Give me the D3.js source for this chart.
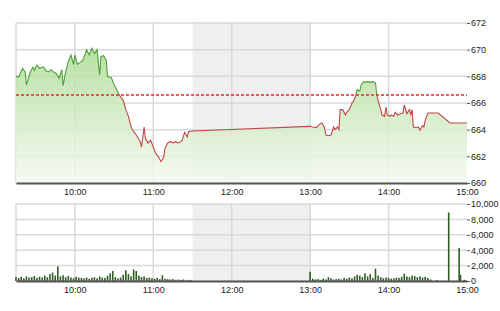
<!DOCTYPE html>
<html>
<head>
<meta charset="utf-8">
<script src="https://cdn.jsdelivr.net/npm/d3@7"></script>
<style>
  body { margin: 0; background: #fff; }
  text { font-family: "Liberation Sans", Arial, sans-serif; }
</style>
</head>
<body>
<div id="chart"></div>
<script>
// index data (time, value)
var priceTimes = ["9:15","9:17","9:20","9:22","9:23","9:26","9:28","9:29","9:31","9:33","9:36","9:38","9:40","9:42","9:44","9:46","9:48","9:50","9:51","9:53","9:55","9:57","9:59","10:00","10:02","10:04","10:06","10:08","10:09","10:11","10:13","10:15","10:17","10:19","10:20","10:22","10:24","10:25","10:28","10:29","10:32","10:34","10:37","10:39","10:41","10:43","10:45","10:47","10:50","10:51","10:53","10:54","10:56","10:58","11:00","11:02","11:04","11:06","11:08","11:09","11:11","11:13","11:15","11:17","11:19","11:21","11:22","11:24","11:26","11:27","11:30",
  "13:00","13:02","13:05","13:07","13:09","13:11","13:12","13:14","13:16","13:18","13:19","13:21","13:22","13:23","13:25","13:27","13:28","13:30","13:32","13:33","13:35","13:36","13:38","13:39","13:41","13:42","13:44","13:46","13:48","13:50","13:51","13:52","13:54","13:55","13:57","13:58","13:59","14:01","14:02","14:04","14:05","14:07","14:09","14:11","14:12","14:14","14:16","14:17","14:18","14:19","14:21","14:23","14:24","14:26","14:27","14:28","14:30","14:38","14:47","15:00"];
var priceValues = [668.0,667.95,668.6,668.35,667.35,668.35,668.7,668.45,668.85,668.6,668.7,668.4,668.35,668.5,668.3,668.2,667.85,668.5,667.3,668.35,669.1,669.6,668.9,669.6,668.9,669.05,669.2,669.7,670.0,669.6,670.1,669.7,670.0,668.1,669.5,669.55,669.2,668.0,667.9,667.6,667.0,666.6,666.2,665.5,665.0,664.2,663.85,663.6,663.1,662.7,664.2,663.35,663.0,663.2,662.7,662.2,661.95,661.6,661.95,662.6,663.0,663.1,663.0,663.1,663.0,663.1,663.2,663.8,663.45,663.85,663.9,
  664.25,664.2,664.15,664.4,664.5,664.15,663.6,663.55,663.6,664.2,664.0,664.2,664.0,665.5,665.5,665.1,665.3,665.5,666.0,666.1,666.6,667.0,666.9,667.35,667.6,667.55,667.6,667.55,667.6,667.5,666.6,666.2,665.5,665.1,665.0,665.7,665.1,665.0,665.1,665.0,665.3,665.1,665.2,665.25,665.85,665.2,665.5,665.1,665.5,664.2,664.15,664.2,663.95,664.3,664.2,664.7,665.25,665.25,664.5,664.5];
var refValue = 666.6;

// volume (every 2 minutes)
var volTimes = ["9:15","9:17","9:19","9:21","9:23","9:25","9:27","9:29","9:31","9:33","9:35","9:37","9:39","9:41","9:43","9:45","9:47","9:49","9:51","9:53","9:55","9:57","9:59","10:01","10:03","10:05","10:07","10:09","10:11","10:13","10:15","10:17","10:19","10:21","10:23","10:25","10:27","10:29","10:31","10:33","10:35","10:37","10:39","10:41","10:43","10:45","10:47","10:49","10:51","10:53","10:55","10:57","10:59","11:01","11:03","11:05","11:07","11:09","11:11","11:13","11:15","11:17","11:19","11:21","11:23","11:25","11:27","11:29",
  "13:00","13:02","13:04","13:06","13:08","13:10","13:12","13:14","13:16","13:18","13:20","13:22","13:24","13:26","13:28","13:30","13:32","13:34","13:36","13:38","13:40","13:42","13:44","13:46","13:48","13:50","13:52","13:54","13:56","13:58","14:00","14:02","14:04","14:06","14:08","14:10","14:12","14:14","14:16","14:18","14:20","14:22","14:24","14:26","14:28","14:30","14:32","14:37","14:46","14:54","14:55","14:58"];
var volValues = [500,400,550,350,600,450,500,650,400,550,450,700,500,900,1100,700,1900,600,750,500,650,450,350,550,450,400,350,450,300,400,500,350,600,450,400,700,1000,1300,500,350,450,800,1400,900,600,1500,1300,700,500,600,400,450,350,300,400,250,750,300,250,200,250,150,200,150,200,100,150,100,
  1200,300,200,250,150,300,200,500,350,200,250,300,200,400,300,450,350,600,800,700,500,1000,600,900,400,1600,700,500,350,450,400,300,350,450,400,550,950,600,500,700,650,500,600,450,550,400,200,100,8900,4300,800,150];

var hourTicks = ["10:00","11:00","12:00","13:00","14:00","15:00"];
var priceTicks = [660,662,664,666,668,670,672];
var volTicks = [0,2000,4000,6000,8000,10000];
var lunch = ["11:30","13:00"];
var dayRange = ["9:15","15:00"];

var parse = d3.timeParse("%H:%M");
var fmt = d3.timeFormat("%H:%M");

var W = 500, H = 311;
var left = 16, right = 467;
var top1 = 23, bot1 = 183;
var top2 = 204, bot2 = 281;

var svg = d3.select("#chart").append("svg")
    .attr("width", W).attr("height", H);

var x = d3.scaleTime()
    .domain(dayRange.map(parse))
    .range([left, right]);
var y = d3.scaleLinear().domain([660, 672]).range([bot1, top1]);
var yv = d3.scaleLinear().domain([0, 10000]).range([bot2, top2]);

var price = priceTimes.map(function(t, i) { return {t: parse(t), v: priceValues[i]}; });
var vol = volTimes.map(function(t, i) { return {t: parse(t), v: volValues[i]}; });

// gradient for area
var defs = svg.append("defs");
var grad = defs.append("linearGradient").attr("id", "gfill")
    .attr("gradientUnits", "userSpaceOnUse")
    .attr("x1", 0).attr("x2", 0).attr("y1", top1).attr("y2", bot1);
grad.append("stop").attr("offset", "0%").attr("stop-color", "#9fd682");
grad.append("stop").attr("offset", "100%").attr("stop-color", "#f4faf1");

defs.append("clipPath").attr("id", "above").append("rect")
    .attr("x", left).attr("y", top1).attr("width", right - left).attr("height", y(refValue) - top1);
defs.append("clipPath").attr("id", "below").append("rect")
    .attr("x", left).attr("y", y(refValue)).attr("width", right - left).attr("height", bot1 - y(refValue));

function panel(yScale, ticks, yTop, yBot) {
  var g = svg.append("g");
  // lunch shade
  g.append("rect")
      .attr("x", x(parse(lunch[0]))).attr("y", yTop)
      .attr("width", x(parse(lunch[1])) - x(parse(lunch[0])))
      .attr("height", yBot - yTop)
      .attr("fill", "#efefef");
  // horizontal grid
  g.selectAll(".hg").data(ticks).enter().append("line")
      .attr("x1", left).attr("x2", right)
      .attr("y1", function(d) { return yScale(d); })
      .attr("y2", function(d) { return yScale(d); })
      .attr("stroke", "#d9d9d9").attr("stroke-width", 1.5);
  // vertical grid
  g.selectAll(".vg").data(hourTicks.slice(0, -1)).enter().append("line")
      .attr("x1", function(d) { return x(parse(d)); })
      .attr("x2", function(d) { return x(parse(d)); })
      .attr("y1", yTop).attr("y2", yBot)
      .attr("stroke", "#d9d9d9").attr("stroke-width", 1.5);
  g.append("line").attr("x1", left).attr("x2", left).attr("y1", yTop).attr("y2", yBot)
      .attr("stroke", "#d9d9d9").attr("stroke-width", 1.5);
  return g;
}

panel(y, priceTicks, top1, bot1);
panel(yv, volTicks, top2, bot2);

// price area
var area = d3.area()
    .x(function(d) { return x(d.t); })
    .y0(bot1)
    .y1(function(d) { return y(d.v); });
svg.append("path").datum(price)
    .attr("d", area)
    .attr("fill", "url(#gfill)")
    .attr("opacity", 0.85);

var line = d3.line()
    .x(function(d) { return x(d.t); })
    .y(function(d) { return y(d.v); });
svg.append("path").datum(price)
    .attr("d", line).attr("fill", "none")
    .attr("stroke", "#4f9e3a").attr("stroke-width", 1.1)
    .attr("clip-path", "url(#above)");
svg.append("path").datum(price)
    .attr("d", line).attr("fill", "none")
    .attr("stroke", "#c2474a").attr("stroke-width", 1.1)
    .attr("clip-path", "url(#below)");

// reference line
svg.append("line")
    .attr("x1", left).attr("x2", right)
    .attr("y1", y(refValue)).attr("y2", y(refValue))
    .attr("stroke", "#e8262a").attr("stroke-width", 1.3)
    .attr("stroke-dasharray", "3,2");

// volume bars
svg.selectAll(".vbar").data(vol).enter().append("rect")
    .attr("x", function(d) { return x(d.t) - 0.8; })
    .attr("width", 1.6)
    .attr("y", function(d) { return yv(d.v); })
    .attr("height", function(d) { return bot2 - yv(d.v); })
    .attr("fill", "#2e5f1f");

// axes
function timeAxis(yPos) {
  var ax = svg.append("g")
      .attr("transform", "translate(0," + yPos + ")")
      .call(d3.axisBottom(x).tickValues(hourTicks.map(parse)).tickFormat(fmt).tickSize(0).tickPadding(6));
  ax.select(".domain").attr("stroke", "#555").attr("stroke-width", 2);
  ax.selectAll("text").attr("font-size", 9).attr("fill", "#222");
}
timeAxis(bot1);
timeAxis(bot2);

function valueAxis(scale, ticks) {
  var ax = svg.append("g")
      .attr("transform", "translate(" + right + ",0)")
      .call(d3.axisRight(scale).tickValues(ticks).tickSize(3).tickPadding(1));
  ax.select(".domain").remove();
  ax.selectAll("line").attr("stroke", "#555");
  ax.selectAll("text").attr("font-size", 9).attr("fill", "#222");
}
valueAxis(y, priceTicks);
valueAxis(yv, volTicks);
</script>
</body>
</html>
